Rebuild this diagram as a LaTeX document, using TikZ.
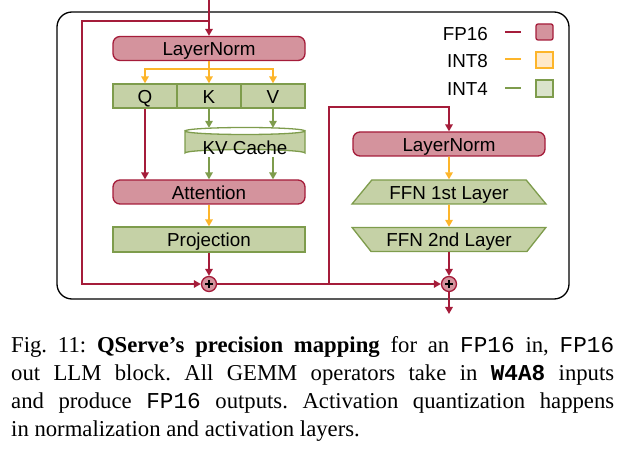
\documentclass[tikz,border=0pt]{standalone}
\usepackage{fontspec}
\setmainfont{Liberation Serif}
\setsansfont{Liberation Sans}
\setmonofont{Liberation Mono}
\usetikzlibrary{arrows.meta,shapes.geometric,calc}
\definecolor{fpline}{HTML}{A51C3A}
\definecolor{fpfill}{HTML}{D4939D}
\definecolor{i8line}{HTML}{FDB52A}
\definecolor{i8fill}{HTML}{FFE9C9}
\definecolor{i4line}{HTML}{7E9C4C}
\definecolor{i4fill}{HTML}{C5D1A6}
\definecolor{i4lfill}{HTML}{DAE3CB}
\tikzset{
  lbl/.style={font=\sffamily\fontsize{18.8}{20}\selectfont, inner sep=0pt},
  cen/.style={text height=14.2pt, text depth=0pt},
  fpbox/.style={lbl, cen, draw=fpline, fill=fpfill, line width=1.3pt, rounded corners=7pt, minimum width=192pt, minimum height=24pt},
  i4box/.style={lbl, cen, draw=i4line, fill=i4fill, line width=1.3pt, minimum height=24pt},
  ffnbox/.style={lbl, cen, draw=i4line, fill=i4fill, line width=1.3pt, trapezium, trapezium angle=43, trapezium stretches=true, minimum width=194pt, minimum height=24pt},
  tip/.style={-{Triangle[length=7pt,width=7.5pt]}},
  fp/.style={draw=fpline, line width=1.6pt},
  i8/.style={draw=i8line, line width=1.6pt},
  i4/.style={draw=i4line, line width=1.6pt},
  plus/.style={circle, draw=fpline, fill=fpfill, line width=1.3pt, minimum size=15pt, inner sep=0pt,
    path picture={\draw[black,line width=1.2pt] ($(path picture bounding box.center)+(-4pt,0)$) -- ++(8pt,0)
      ($(path picture bounding box.center)+(0,-4pt)$) -- ++(0,8pt);}},
  legsq/.style={line width=1.3pt, rounded corners=2pt}
}
\begin{document}
\begin{tikzpicture}[x=1pt,y=-1pt]
\useasboundingbox (0,0) rectangle (625,449);
% outer frame
\draw[black, line width=1.3pt, rounded corners=15pt] (57,12) rectangle (569,299);

% legend
\node[lbl, cen, anchor=east] (lfp) at (488,33) {FP16};
\node[lbl, cen, anchor=east] (li8) at (488,60) {INT8};
\node[lbl, cen, anchor=east] (li4) at (488,88) {INT4};
\draw[fp] (505,32) -- (521,32);
\draw[i8] (505,59) -- (521,59);
\draw[i4] (505,88) -- (521,88);
\draw[legsq, draw=fpline, fill=fpfill] (536,24) rectangle (553,40);
\draw[legsq, draw=i8line, fill=i8fill, rounded corners=0pt] (536,52) rectangle (553,68);
\draw[legsq, draw=i4line, fill=i4lfill, rounded corners=0pt] (536,80) rectangle (553,97);

% left column
\node[fpbox] (ln1) at (209,48.5) {LayerNorm};
\node[i4box, minimum width=64pt] (Q) at (145,96) {Q};
\node[i4box, minimum width=64pt] (K) at (209,96) {K};
\node[i4box, minimum width=64pt] (V) at (273,96) {V};
% KV cache cylinder
\node[lbl, minimum width=120pt, minimum height=29pt] (kv) at (245,142.5) {};
\draw[i4line, fill=i4fill, line width=1.3pt]
  (185,131) -- (185,153) arc[start angle=180, end angle=360, x radius=60pt, y radius=-3.5pt]
  -- (305,131) arc[start angle=0, end angle=180, x radius=60pt, y radius=-3.5pt] -- cycle;
\draw[i4line, line width=1.3pt] (185,131) arc[start angle=180, end angle=360, x radius=60pt, y radius=-3.5pt];
\node[lbl, cen] (kvt) at (245,147.5) {KV Cache};
\node[fpbox] (att) at (209,192) {Attention};
\node[i4box, minimum width=192pt, minimum height=25pt] (proj) at (209,239.5) {Projection};
\node[plus] (p1) at (209,284) {};

% right column
\node[fpbox] (ln2) at (449,144) {LayerNorm};
\node[ffnbox] (f1) at (449,192) {FFN 1st Layer};
\node[ffnbox, shape border rotate=180] (f2) at (449,239.5) {FFN 2nd Layer};
\node[plus] (p2) at (449,284) {};

% connectors
\coordinate (in) at (209,0);
\coordinate (r1) at (209,21);
\coordinate (out) at (449,314);
\draw[fp, tip] (in) -- (ln1.north);
\draw[fp, tip] (r1) -- (82,21) -- (82,284) -- (p1.west);

\draw[i8] (ln1.south) -- ++(0,8) coordinate (b1);
\draw[i8, tip] (b1) -| (Q.north);
\draw[i8, tip] (b1) -| (V.north);
\draw[i8, tip] (b1) -- (K.north);

\draw[fp, tip] (Q.south) -- (Q.south |- att.north);
\draw[i4, tip] (K.south) -- (K.south |- kv.north);
\draw[i4, tip] (V.south) -- (V.south |- kv.north);
\draw[i4, tip] (K.south |- kv.south) -- (K.south |- att.north);
\draw[i4, tip] (V.south |- kv.south) -- (V.south |- att.north);
\draw[i8, tip] (att.south) -- (proj.north);
\draw[fp, tip] (proj.south) -- (p1.north);

\coordinate (r2) at (329,284);
\draw[fp, tip] (p1.east) -- (p2.west);
\draw[fp, tip] (r2) -- (329,107) -| (ln2.north);
\draw[i8, tip] (ln2.south) -- (f1.north);
\draw[i8, tip] (f1.south) -- (f2.north);
\draw[fp, tip] (f2.south) -- (p2.north);
\draw[fp, tip] (p2.south) -- (out);

% caption
\node[anchor=north west, inner sep=0pt, text width=603pt, align=justify,
  font=\rmfamily\fontsize{22.7}{28}\selectfont] (cap) at (11,336)
  {\frenchspacing\hyphenpenalty=10000 Fig. 11: \textbf{QServe’s precision mapping} for an \texttt{FP16} in, \texttt{FP16}\linebreak
   out LLM block. All GEMM operators take in \texttt{\textbf{W4A8}} inputs\linebreak
   and produce \texttt{FP16} outputs. Activation quantization happens\linebreak
   in normalization and activation layers.};
\end{tikzpicture}
\end{document}
